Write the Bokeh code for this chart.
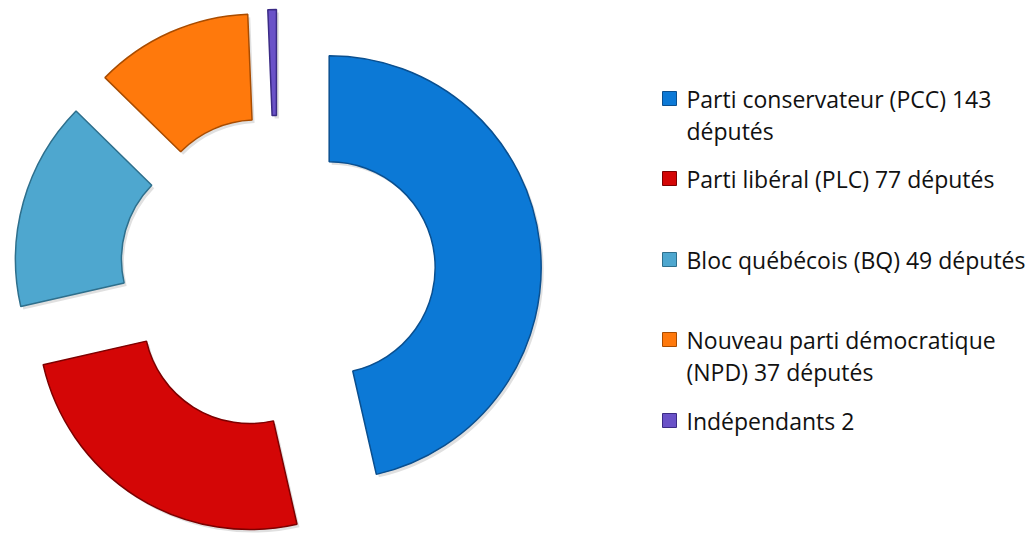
import numpy as np
from bokeh.plotting import figure
from bokeh.models import Range1d, ColumnDataSource
from bokeh.core.properties import value
from bokeh.embed import file_html
from bokeh.resources import INLINE

# ---- data ----
parties = ["PCC", "PLC", "BQ", "NPD", "Indépendants"]
seats = [143, 77, 49, 37, 2]
labels = [
    "Parti conservateur (PCC) 143\ndéputés",
    "Parti libéral (PLC) 77 députés",
    "Bloc québécois (BQ) 49 députés",
    "Nouveau parti démocratique\n(NPD) 37 députés",
    "Indépendants 2",
]
colors = ["#0c79d6", "#d40606", "#4ea7cf", "#ff790c", "#6a52c8"]
edges = ["#0a4f8f", "#7d0000", "#2e6f8c", "#a94c00", "#3b2b85"]

# ---- layout ----
W, H = 1036, 533
cx, cy = 277, 260          # donut centre (px, y up)
R_out, R_in = 212, 106
explode = 52
legend_x_key = 662
legend_x_text = 686
legend_line_y = [98, 178, 259, 339, 420]   # first line of each item (px from top)
line_gap = 32

vals = np.array(seats, dtype=float)
frac = vals / vals.sum()
cum_end = np.cumsum(frac)
cum_start = cum_end - frac
mid = (cum_start + cum_end) / 2 * 2 * np.pi  # clockwise from top
start_ang = np.pi / 2 - cum_start * 2 * np.pi
end_ang = np.pi / 2 - cum_end * 2 * np.pi
xs = cx + explode * np.sin(mid)
ys = cy + explode * np.cos(mid)

src = ColumnDataSource(dict(x=xs, y=ys, sa=start_ang, ea=end_ang,
                            sx=xs + 2.5, sy=ys - 3,
                            c=colors, e=edges))

p = figure(width=W, height=H, x_range=Range1d(0, W), y_range=Range1d(0, H),
           output_backend="svg", toolbar_location=None,
           x_axis_type=None, y_axis_type=None, min_border=0)
p.grid.visible = False
p.outline_line_color = None
p.background_fill_color = "white"

# soft shadow
p.annular_wedge(x="sx", y="sy", inner_radius=R_in, outer_radius=R_out,
                start_angle="sa", end_angle="ea", direction="clock",
                fill_color="#000000", fill_alpha=0.12, line_color=None, source=src)
# slices
p.annular_wedge(x="x", y="y", inner_radius=R_in, outer_radius=R_out,
                start_angle="sa", end_angle="ea", direction="clock",
                fill_color="c", line_color="e", line_width=1.5, source=src)

# legend
kx, ky = [], []
tx, ty, tt = [], [], []
for i, lab in enumerate(labels):
    y0 = H - legend_line_y[i]
    kx.append(legend_x_key + 7)
    ky.append(y0)
    for j, line in enumerate(lab.split("\n")):
        tx.append(legend_x_text)
        ty.append(y0 - j * line_gap)
        tt.append(line)

p.rect(x=kx, y=ky, width=14, height=14, fill_color=colors, line_color=edges, line_width=1)
p.text(x=tx, y=ty, text=tt, text_font=value("Open Sans"), text_font_size="23px",
       text_baseline="middle", text_align="left", text_color="#111111")

open("out.html", "w").write(file_html(p, INLINE))
